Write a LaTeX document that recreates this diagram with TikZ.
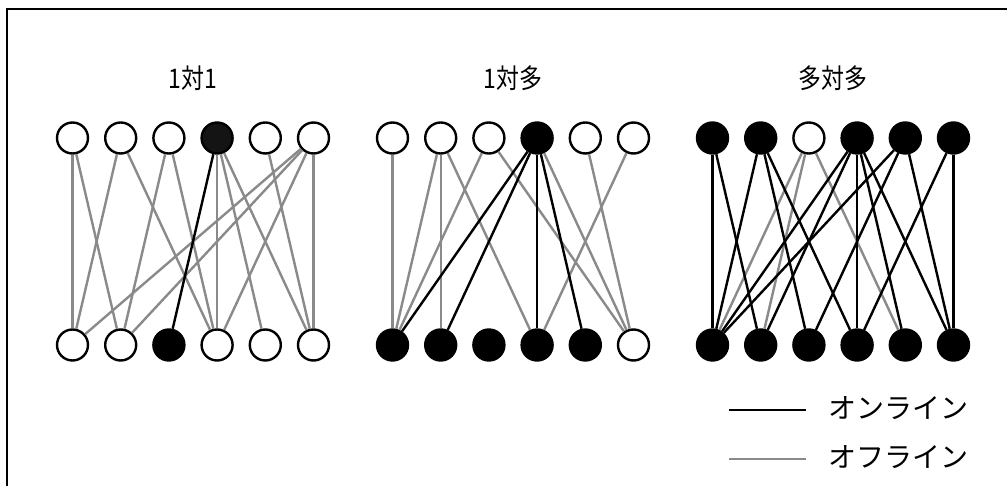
\documentclass[tikz,border=0pt]{standalone}
\usepackage{fontspec}
\setmainfont{Noto Sans CJK JP}
\definecolor{edgegray}{RGB}{138,138,138}
\definecolor{darkfill}{RGB}{20,20,20}
\begin{document}
\begin{tikzpicture}[x=1pt,y=-1pt,
  vtx/.style={circle,draw=black,line width=2.4pt,minimum size=31pt,inner sep=0pt},
  off/.style={vtx,fill=white},
  on/.style={vtx,fill=black},
  dark/.style={vtx,fill=darkfill},
  online/.style={line width=2.4pt,draw=black},
  offline/.style={line width=2.4pt,draw=edgegray},
  title/.style={font=\fontsize{27}{27}\selectfont,inner sep=0pt},
  legendtext/.style={font=\fontsize{28}{28}\selectfont,anchor=west,inner sep=0pt}]
\useasboundingbox (0,0) rectangle (1007,486);
% frame (top and left edges)
\draw[line width=2.2pt] (7,486) -- (7,9) -- (1007,9);

% titles
\node[title] (ta) at (193,78) {\scalebox{0.85}[1]{1対1}};
\node[title] (tb) at (513,78) {\scalebox{0.85}[1]{1対多}};
\node[title] (tc) at (833,78) {\scalebox{0.85}[1]{多対多}};

% panel 1: one-to-one
\foreach \i/\s in {1/off,2/off,3/off,4/dark,5/off,6/off}
  \node[\s] (pt\i) at ({72.5+48.2*(\i-1)},138) {};
\foreach \i/\s in {1/off,2/off,3/on,4/off,5/off,6/off}
  \node[\s] (pb\i) at ({72.5+48.2*(\i-1)},345) {};
\foreach \a/\b in {1/1,1/2,2/1,2/4,3/2,3/4,4/4,4/5,4/6,5/6,6/1,6/2,6/4,6/6}
  \draw[offline] (pt\a) -- (pb\b);
\foreach \a/\b in {4/3}
  \draw[online] (pt\a) -- (pb\b);

% panel 2: one-to-many
\foreach \i/\s in {1/off,2/off,3/off,4/on,5/off,6/off}
  \node[\s] (qt\i) at ({392.5+48.2*(\i-1)},138) {};
\foreach \i/\s in {1/on,2/on,3/on,4/on,5/on,6/off}
  \node[\s] (qb\i) at ({392.5+48.2*(\i-1)},345) {};
\foreach \a/\b in {1/1,2/1,2/2,2/4,3/1,3/6,4/6,5/6,6/4}
  \draw[offline] (qt\a) -- (qb\b);
\foreach \a/\b in {4/1,4/2,4/4,4/5}
  \draw[online] (qt\a) -- (qb\b);

% panel 3: many-to-many
\foreach \i/\s in {1/on,2/on,3/off,4/on,5/on,6/on}
  \node[\s] (rt\i) at ({712.5+48.2*(\i-1)},138) {};
\foreach \i/\s in {1/on,2/on,3/on,4/on,5/on,6/on}
  \node[\s] (rb\i) at ({712.5+48.2*(\i-1)},345) {};
\foreach \a/\b in {3/1,3/2,3/5}
  \draw[offline] (rt\a) -- (rb\b);
\foreach \a/\b in {1/1,1/2,2/1,2/3,2/4,4/1,4/2,4/4,4/5,4/6,5/1,5/3,5/6,6/4,6/6}
  \draw[online] (rt\a) -- (rb\b);

% legend
\coordinate (la) at (729,410);
\coordinate (lb) at (806,410);
\coordinate (lc) at (729,459);
\coordinate (ld) at (806,459);
\draw[online] (la) -- (lb);
\draw[offline] (lc) -- (ld);
\node[legendtext] (lon) at (828,408) {オンライン};
\node[legendtext] (loff) at (828,457) {オフライン};
\end{tikzpicture}
\end{document}
